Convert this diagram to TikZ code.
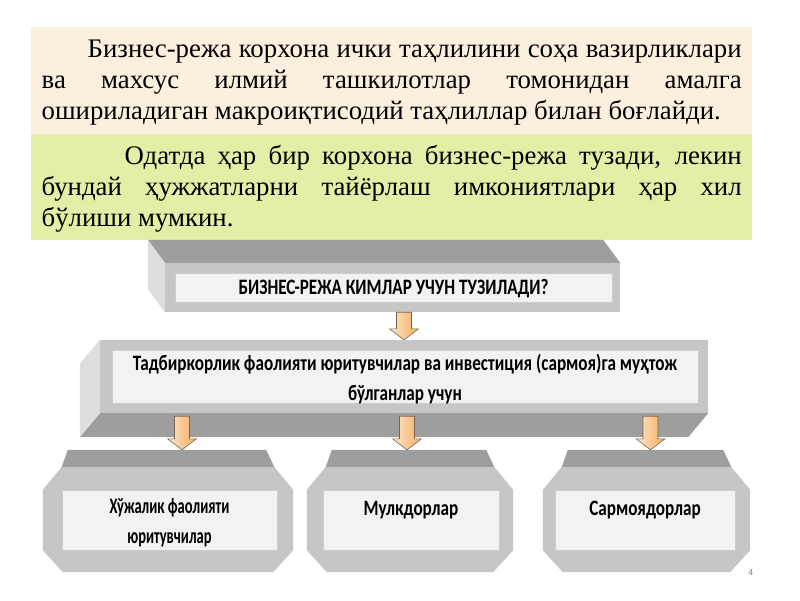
\documentclass[tikz,border=0pt]{standalone}
\usepackage{fontspec}
\setmainfont{Liberation Serif}
\newfontfamily\boxfont{Carlito}[FakeStretch=0.78]
\newfontfamily\narrowfont{Carlito}[FakeStretch=0.66]
\usetikzlibrary{calc, positioning}
\definecolor{paper}{RGB}{251,240,221}
\definecolor{lime}{RGB}{226,239,166}
\definecolor{facedark}{RGB}{158,158,158}
\definecolor{faceside}{RGB}{222,222,222}
\definecolor{framegray}{RGB}{198,198,198}
\definecolor{innergray}{RGB}{242,242,242}
\definecolor{arrowlight}{RGB}{253,230,204}
\definecolor{arroworange}{RGB}{246,172,92}
\definecolor{arrowline}{RGB}{120,100,80}

\begin{document}
\begin{tikzpicture}[x=1pt, y=-1pt,
	para/.style={anchor=base west, inner sep=0pt, text width=700pt, align=justify, font=\fontsize{26.8}{31}\selectfont},
	frame/.style={fill=framegray, inner sep=0pt},
	tile/.style={inner sep=0pt, minimum height=105pt},
	face/.style={fill=innergray, draw=innergray!85!black, line width=.3pt, inner sep=0pt},
	label/.style={inner sep=0pt, align=center, font=\boxfont\bfseries\fontsize{22}{30}\selectfont},
	topface/.style={fill=facedark},
	sideface/.style={fill=faceside},
	blockarrow/.style={draw=arrowline, line width=.6pt, left color=arrowlight, right color=arroworange,
		to path={let \p1=(\tikztostart), \p2=(\tikztotarget) in
			(\x1-7.5pt,\y1) -- (\x1+7.5pt,\y1) -- (\x1+7.5pt,\y2+11pt) -- (\x1+14.5pt,\y2+11pt)
			-- (\x1,\y2) -- (\x1-14.5pt,\y2+11pt) -- (\x1-7.5pt,\y2+11pt) -- cycle}}]
	\useasboundingbox (0,0) rectangle (800,600);
	\fill[paper] (31,27) rectangle (752,134);
	\fill[lime] (31,134) rectangle (752,240);
	\node[para] (note1) at (41.5,57.3) {\hspace*{46pt}Бизнес-режа корхона ички таҳлилини соҳа вазирликлари\linebreak ва махсус илмий ташкилотлар томонидан амалга\linebreak ошириладиган макроиқтисодий таҳлиллар билан боғлайди.};
	\node[para] (note2) at (41.5,164) {\hspace*{83pt}Одатда ҳар бир корхона бизнес-режа тузади, лекин\linebreak бундай ҳужжатларни тайёрлаш имкониятлари ҳар хил\linebreak бўлиши мумкин.};

	\node[frame, minimum width=455pt, minimum height=49pt] (who) at (392.5,287.5) {};
	\fill[topface] (who.north west) -- ++(-17,-23) -- ($(who.north east)+(-17,-23)$) -- (who.north east) -- cycle;
	\fill[sideface] (who.north west) -- ++(-17,-23) -- ($(who.south west)+(-17,-23)$) -- (who.south west) -- cycle;
	\node[face, minimum width=437pt, minimum height=29pt] (whoBox) at (393.5,287.5) {};
	\node[label] (whoText) at ($(whoBox)+(0,1.5)$) {БИЗНЕС-РЕЖА КИМЛАР УЧУН ТУЗИЛАДИ?};

	\node[frame, minimum width=608pt, minimum height=73pt] (need) at (404,376.5) {};
	\fill[topface] (need.south west) -- ++(-20,24) -- ($(need.south east)+(-20,24)$) -- (need.south east) -- cycle;
	\fill[sideface] (need.north west) -- ++(-20,24) -- ($(need.south west)+(-20,24)$) -- (need.south west) -- cycle;
	\node[face, minimum width=586pt, minimum height=53pt] (needBox) at (405,376.5) {};
	\node[label] (needText) at ($(needBox)+(0,3)$) {Тадбиркорлик фаолияти юритувчилар ва инвестиция (сармоя)га муҳтож\\бўлганлар учун};

	\node[tile, minimum width=250pt] (maker) at (168,519.5) {};
	\node[tile, minimum width=206pt] (owner) at (410,519.5) {};
	\node[tile, minimum width=207pt] (investor) at (646.5,519.5) {};
	\foreach \b in {maker, owner, investor} {
		\fill[framegray] ($(\b.north west)+(19,0)$) -- ($(\b.north east)+(-19,0)$) -- ($(\b.north east)+(0,23)$)
			-- ($(\b.south east)+(0,-22)$) -- ($(\b.south east)+(-20,0)$) -- ($(\b.south west)+(20,0)$)
			-- ($(\b.south west)+(0,-22)$) -- ($(\b.north west)+(0,23)$) -- cycle;
		\fill[topface] ($(\b.north west)+(19,0)$) -- ++(6,-17) -- ($(\b.north east)+(-27,-17)$) -- ($(\b.north east)+(-19,0)$) -- cycle;
	}
	\node[face, minimum width=215pt, minimum height=60pt] (makerBox) at (169.5,520) {};
	\node[face, minimum width=176pt, minimum height=60pt] (ownerBox) at (411,520) {};
	\node[face, minimum width=180pt, minimum height=60pt] (investorBox) at (645,520) {};
	\node[label, font=\narrowfont\bfseries\fontsize{22}{30}\selectfont] (makerText) at ($(makerBox)+(0,3)$) {Хўжалик фаолияти\\юритувчилар};
	\node[label] (ownerText) at ($(ownerBox)+(0,3)$) {Мулкдорлар\\\mbox{}};
	\node[label] (investorText) at ($(investorBox)+(0,3)$) {Сармоядорлар\\\mbox{}};

	\path[blockarrow] (who.south -| need.north) to (need.north);
	\path[blockarrow] ($(need.south -| maker.north)+(14,3)$) to ($(maker.north)+(14,-17)$);
	\path[blockarrow] ($(need.south -| owner.north)+(-3,3)$) to ($(owner.north)+(-3,-17)$);
	\path[blockarrow] ($(need.south -| investor.north)+(4,3)$) to ($(investor.north)+(4,-17)$);

	\node[font=\sffamily\fontsize{9}{9}\selectfont, text=gray] (page) at (751,573) {4};
\end{tikzpicture}
\end{document}
